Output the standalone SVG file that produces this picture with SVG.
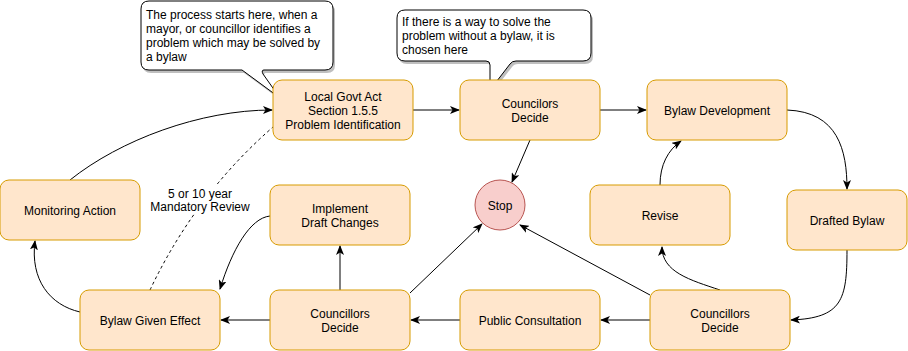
<svg xmlns="http://www.w3.org/2000/svg" width="908" height="351" viewBox="0 0 908 351">
<style>
.n{fill:#ffe6cc;stroke:#d79b00;stroke-width:1}
.t{font-family:"Liberation Sans",Arial,sans-serif;font-size:12px;fill:#000;text-anchor:middle}
.tl{font-family:"Liberation Sans",Arial,sans-serif;font-size:12px;fill:#000}
.c{fill:none;stroke:#000;stroke-width:1}
.cb{fill:#fff;stroke:#000;stroke-width:1}
.sh{fill:#000;opacity:0.25}
</style>
<defs>
<marker id="a" viewBox="0 0 10 8" refX="9" refY="4" markerWidth="10" markerHeight="8" markerUnits="userSpaceOnUse" orient="auto">
<path d="M0,0 L10,4 L0,8 L2.5,4 Z" fill="#000"/>
</marker>
<path id="cl1" d="M149,1 H325 Q333,1 333,9 V62 Q333,70 325,70 H264 Q261,70 263,74 L280,98 L242,70 H149 Q141,70 141,62 V9 Q141,1 149,1 Z"/>
<path id="cl2" d="M405,10 H583 Q591,10 591,18 V53 Q591,61 583,61 H516 Q512,61 510,64 L490,90 L490,65 Q490,61 486,61 H405 Q397,61 397,53 V18 Q397,10 405,10 Z"/>
</defs>
<g id="connectors">
<path class="c" d="M413,110 L459,110" marker-end="url(#a)"/>
<path class="c" d="M600,110 L646,110" marker-end="url(#a)"/>
<path class="c" d="M530,140 L512,182" marker-end="url(#a)"/>
<path class="c" d="M787,110 C838,112 847,150 847,189" marker-end="url(#a)"/>
<path class="c" d="M847,250 C847,300 842,318 791,320" marker-end="url(#a)"/>
<path class="c" d="M720,290 C690,280 662,272 662,247" marker-end="url(#a)"/>
<path class="c" d="M660,185 C660,165 668,150 681,141" marker-end="url(#a)"/>
<path class="c" d="M650,295 L520,225" marker-end="url(#a)"/>
<path class="c" d="M650,320 L601,320" marker-end="url(#a)"/>
<path class="c" d="M460,320 L411,320" marker-end="url(#a)"/>
<path class="c" d="M410,293 L482,224" stroke-width="0.8" marker-end="url(#a)"/>
<path class="c" d="M340,290 L340,246" marker-end="url(#a)"/>
<path class="c" d="M270,320 L221,320" marker-end="url(#a)"/>
<path class="c" d="M270,216 C250,218 232,250 220,289" marker-end="url(#a)"/>
<path class="c" d="M80,312 C50,305 30,280 35,241" marker-end="url(#a)"/>
<path class="c" d="M70,180 C120,140 200,110 272,110" marker-end="url(#a)"/>
<path class="c" d="M150,290 Q195,195 273,127" stroke-dasharray="3,3" stroke-width="0.8"/>
<rect x="153" y="186" width="94" height="28" fill="#fff"/>
<text class="t" x="200" y="198">5 or 10 year</text>
<text class="t" x="200" y="211">Mandatory Review</text>
</g>
<g id="callout1">
<use href="#cl1" class="sh" transform="translate(2,3)"/>
<use href="#cl1" class="cb"/>
<text class="tl" x="146" y="19">The process starts here, when a</text>
<text class="tl" x="146" y="33">mayor, or councillor identifies a</text>
<text class="tl" x="146" y="47">problem which may be solved by</text>
<text class="tl" x="146" y="61">a bylaw</text>
</g>
<g id="callout2">
<use href="#cl2" class="sh" transform="translate(2,3)"/>
<use href="#cl2" class="cb"/>
<text class="tl" x="402" y="26">If there is a way to solve the</text>
<text class="tl" x="402" y="40">problem without a bylaw, it is</text>
<text class="tl" x="402" y="54">chosen here</text>
</g>
<g id="local-govt-act">
<rect class="n" x="273" y="80" width="140" height="60" rx="9"/>
<text class="t" x="343" y="101">Local Govt Act</text>
<text class="t" x="343" y="115">Section 1.5.5</text>
<text class="t" x="343" y="129">Problem Identification</text>
</g>
<g id="councilors-decide">
<rect class="n" x="460" y="80" width="140" height="60" rx="9"/>
<text class="t" x="530" y="108">Councilors</text>
<text class="t" x="530" y="122">Decide</text>
</g>
<g id="bylaw-development">
<rect class="n" x="647" y="80" width="140" height="60" rx="9"/>
<text class="t" x="717" y="115">Bylaw Development</text>
</g>
<g id="drafted-bylaw">
<rect class="n" x="787" y="190" width="120" height="60" rx="9"/>
<text class="t" x="847" y="225">Drafted Bylaw</text>
</g>
<g id="revise">
<rect class="n" x="590" y="185" width="140" height="60" rx="9"/>
<text class="t" x="660" y="220">Revise</text>
</g>
<g id="stop">
<circle cx="500" cy="205" r="25" fill="#f8cecc" stroke="#b85450"/>
<text class="t" x="500" y="210">Stop</text>
</g>
<g id="councillors-decide-right">
<rect class="n" x="650" y="290" width="140" height="60" rx="9"/>
<text class="t" x="720" y="318">Councillors</text>
<text class="t" x="720" y="332">Decide</text>
</g>
<g id="public-consultation">
<rect class="n" x="460" y="290" width="140" height="60" rx="9"/>
<text class="t" x="530" y="325">Public Consultation</text>
</g>
<g id="councillors-decide-mid">
<rect class="n" x="270" y="290" width="140" height="60" rx="9"/>
<text class="t" x="340" y="318">Councillors</text>
<text class="t" x="340" y="332">Decide</text>
</g>
<g id="implement-draft-changes">
<rect class="n" x="270" y="185" width="140" height="60" rx="9"/>
<text class="t" x="340" y="213">Implement</text>
<text class="t" x="340" y="227">Draft Changes</text>
</g>
<g id="bylaw-given-effect">
<rect class="n" x="80" y="290" width="140" height="60" rx="9"/>
<text class="t" x="150" y="325">Bylaw Given Effect</text>
</g>
<g id="monitoring-action">
<rect class="n" x="0" y="180" width="140" height="60" rx="9"/>
<text class="t" x="70" y="215">Monitoring Action</text>
</g>
</svg>
